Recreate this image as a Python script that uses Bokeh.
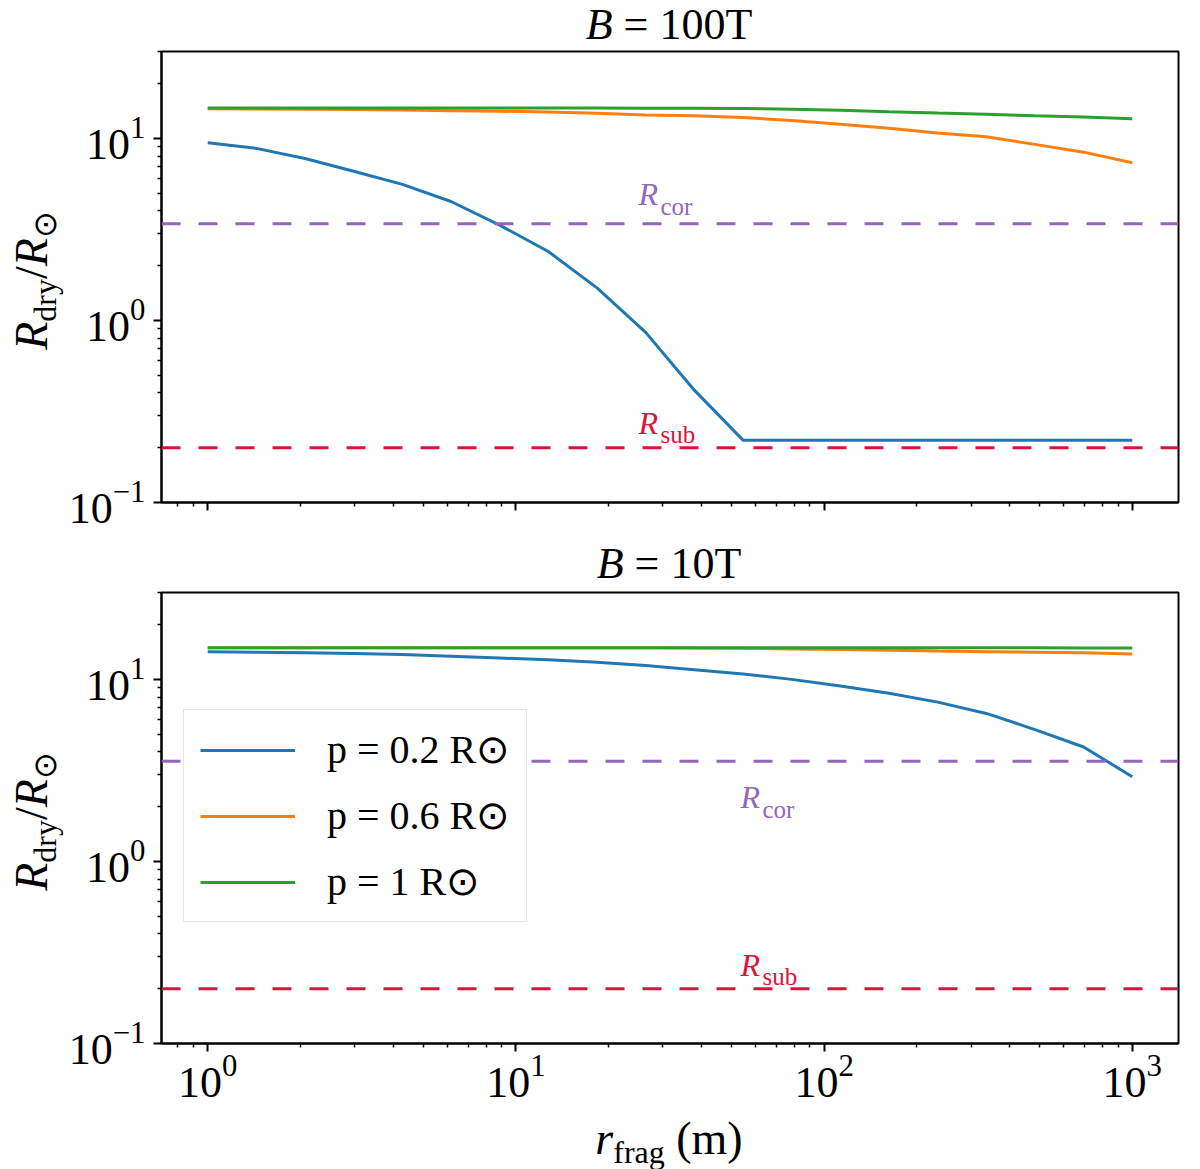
from math import log10

from bokeh.plotting import figure
from bokeh.models import (FixedTicker, Span, Label, Legend, LegendItem,
                          CustomJSTickFormatter, Div)
from bokeh.layouts import column, row
from bokeh.embed import file_html
from bokeh.resources import INLINE

# ---------------------------------------------------------------- data
R_FRAG = [1.0, 1.438, 2.069, 2.976, 4.281, 6.158, 8.859, 12.74, 18.33, 26.37,
          37.93, 54.56, 78.48, 112.9, 162.4, 233.6, 336.0, 483.3, 695.2, 1000.0]

P_LABELS = ["p = 0.2 R\u2299", "p = 0.6 R\u2299", "p = 1 R\u2299"]
B_LABELS = ["100T", "10T"]

# B = 100 T
B100_P02 = [9.46, 8.81, 7.75, 6.6, 5.59, 4.5, 3.34, 2.39, 1.51, 0.86,
            0.414, 0.22, 0.22, 0.22, 0.22, 0.22, 0.22, 0.22, 0.22, 0.22]
B100_P06 = [14.55, 14.5, 14.45, 14.4, 14.3, 14.2, 14.1, 13.95, 13.75, 13.45,
            13.3, 13.0, 12.55, 11.95, 11.35, 10.7, 10.2, 9.27, 8.4, 7.35]
B100_P10 = [14.7, 14.7, 14.7, 14.7, 14.7, 14.7, 14.7, 14.7, 14.7, 14.65,
            14.62, 14.6, 14.43, 14.26, 14.0, 13.77, 13.55, 13.3, 13.1, 12.82]

# B = 10 T
B10_P02 = [14.2, 14.1, 14.0, 13.85, 13.7, 13.4, 13.1, 12.8, 12.4, 11.9,
           11.3, 10.7, 10.0, 9.2, 8.4, 7.5, 6.5, 5.3, 4.25, 2.92]
B10_P06 = [14.9, 14.9, 14.9, 14.9, 14.9, 14.9, 14.9, 14.9, 14.9, 14.9,
           14.88, 14.8, 14.7, 14.6, 14.45, 14.3, 14.2, 14.1, 14.0, 13.8]
B10_P10 = [14.9, 14.9, 14.9, 14.9, 14.9, 14.9, 14.9, 14.9, 14.9, 14.9,
           14.9, 14.9, 14.9, 14.9, 14.9, 14.9, 14.9, 14.9, 14.88, 14.85]

R_COR = [3.40, 3.55]
R_SUB = [0.2, 0.2]

X_RANGE = (0.708, 1412.5)
Y_RANGE = (0.1, 30.0)
X_TICKS = [1, 10, 100, 1000]
Y_TICKS = [0.1, 1, 10]

COLORS = ["#1f77b4", "#ff7f0e", "#2ca02c"]
COR_COLOR = "#9467bd"
SUB_COLOR = "#dc143c"
SERIF = "Liberation Serif"

# ---------------------------------------------------------------- geometry
YLAB_W = 64               # column holding the rotated y label
FRAME_LEFT = 161          # page px of the plot frame
FRAME_W, FRAME_H = 1017, 451
FRAME_TOPS = [51, 592]
FIG_BOTTOM = [37, 70]     # border below each frame


def xpos(px):
    a, b = log10(X_RANGE[0]), log10(X_RANGE[1])
    return 10 ** (a + px / FRAME_W * (b - a))


def ypos(py):
    a, b = log10(Y_RANGE[0]), log10(Y_RANGE[1])
    return 10 ** (b - py / FRAME_H * (b - a))


def put(p, top, x, y, text, size, color="black", style="normal"):
    """in-frame text whose baseline starts at page pixel (x, y)"""
    p.add_layout(Label(
        x=xpos(x - FRAME_LEFT), y=ypos(y - top), text=text,
        text_font=SERIF, text_font_size=f"{size}px", text_font_style=style,
        text_color=color, text_align="left", text_baseline="alphabetic",
    ))


def minors(lo, hi):
    out = []
    for e in range(-2, 5):
        for k in range(2, 10):
            v = k * 10 ** e
            if lo <= v <= hi:
                out.append(v)
    return out


SUB = "font-size:32px;position:relative;top:9px;"


def centered_div(html, height, size=44, lh=49, pad=0):
    # text centred over the plot frame (page x = 669)
    inner = (f"<div style=\"width:1200px;padding-left:138px;padding-top:{pad}px;"
             f"box-sizing:border-box;text-align:center;font-family:'{SERIF}';"
             f"font-size:{size}px;line-height:{lh}px;color:black;"
             f"white-space:nowrap;\">{html}</div>")
    return Div(text=inner, width=1200, height=height, margin=0)


def ylabel_div(height):
    html = (f"<i>R</i><span style='{SUB}'>dry</span>/<i>R</i>"
            f"<span style='{SUB}'>\u2299</span>")
    inner = (f"<div style=\"width:{FRAME_H}px;height:{YLAB_W}px;padding-top:6px;"
             f"box-sizing:border-box;transform-origin:0 0;"
             f"transform:translate(0px,{FRAME_H + 6}px) rotate(-90deg);"
             f"text-align:center;font-family:'{SERIF}';font-size:46px;"
             f"line-height:51px;color:black;white-space:nowrap;\">{html}</div>")
    return Div(text=inner, width=YLAB_W, height=height, margin=0)


def panel(i, series, r_cor, r_sub, bottom):
    top = FRAME_TOPS[i]
    p = figure(
        x_axis_type="log", y_axis_type="log",
        x_range=X_RANGE, y_range=Y_RANGE,
        frame_width=FRAME_W, frame_height=FRAME_H,
        min_border_left=FRAME_LEFT - YLAB_W, min_border_right=22,
        min_border_top=2, min_border_bottom=FIG_BOTTOM[i],
        output_backend="svg", toolbar_location=None, title_location=None,
        background_fill_color="white", border_fill_color="white",
    )
    p.grid.visible = False
    p.outline_line_color = "black"
    p.outline_line_width = 2
    p.outline_line_alpha = 1

    p.xaxis.ticker = FixedTicker(ticks=X_TICKS, minor_ticks=minors(*X_RANGE))
    p.yaxis.ticker = FixedTicker(ticks=Y_TICKS, minor_ticks=minors(*Y_RANGE))
    for ax in (p.xaxis, p.yaxis):
        ax.axis_line_width = 2
        ax.axis_line_color = "black"
        ax.major_tick_line_width = 2
        ax.minor_tick_line_width = 1.5
        ax.major_tick_out = 8
        ax.major_tick_in = 0
        ax.minor_tick_out = 4
        ax.minor_tick_in = 0
        ax.major_label_text_font = SERIF
        ax.major_label_text_font_size = "44px"
        ax.major_label_text_color = "black"
    p.yaxis.major_label_standoff = 8
    p.xaxis.major_label_standoff = 4
    if not bottom:
        p.xaxis.formatter = CustomJSTickFormatter(code="return ''")

    p.add_layout(Span(location=r_cor, dimension="width", line_color=COR_COLOR,
                      line_width=3, line_dash="19 18"))
    p.add_layout(Span(location=r_sub, dimension="width", line_color=SUB_COLOR,
                      line_width=3, line_dash="19 18"))

    lines = []
    for ys, c in zip(series, COLORS):
        lines.append(p.line(R_FRAG, ys, line_color=c, line_width=3))

    # reference line labels
    if i == 0:
        cx, cor_y, sub_y = 638, top + 142, top + 371
    else:
        cx, cor_y, sub_y = 740, top + 204, top + 372
    put(p, top, cx, cor_y, "R", 32, color=COR_COLOR, style="italic")
    put(p, top, cx + 22, cor_y + 13, "cor", 25, color=COR_COLOR)
    put(p, top, cx, sub_y, "R", 32, color=SUB_COLOR, style="italic")
    put(p, top, cx + 22, sub_y + 12, "sub", 25, color=SUB_COLOR)

    if bottom:
        legend = Legend(
            items=[LegendItem(label=lab, renderers=[r]) for lab, r in zip(P_LABELS, lines)],
            location=(22, 121),
            label_text_font=SERIF, label_text_font_size="40px",
            label_text_color="black",
            glyph_width=95, glyph_height=40, label_height=40,
            label_standoff=32, spacing=19, padding=16, margin=0,
            border_line_color="#cccccc", border_line_width=1.5,
            background_fill_color="white", background_fill_alpha=1.0,
        )
        p.add_layout(legend)
    return p


p1 = panel(0, [B100_P02, B100_P06, B100_P10], R_COR[0], R_SUB[0], bottom=False)
p2 = panel(1, [B10_P02, B10_P06, B10_P10], R_COR[1], R_SUB[1], bottom=True)

h1 = 2 + FRAME_H + FIG_BOTTOM[0]
h2 = 2 + FRAME_H + FIG_BOTTOM[1]

layout = column(
    centered_div(f"<i>B</i> = {B_LABELS[0]}", 49),
    row(ylabel_div(h1), p1, spacing=0),
    centered_div(f"<i>B</i> = {B_LABELS[1]}", 51),
    row(ylabel_div(h2), p2, spacing=0),
    centered_div(f"<i>r</i><span style='{SUB}'>frag</span> (m)", 54, size=46, lh=51),
    spacing=0,
)
open("out.html", "w").write(file_html(layout, INLINE))
